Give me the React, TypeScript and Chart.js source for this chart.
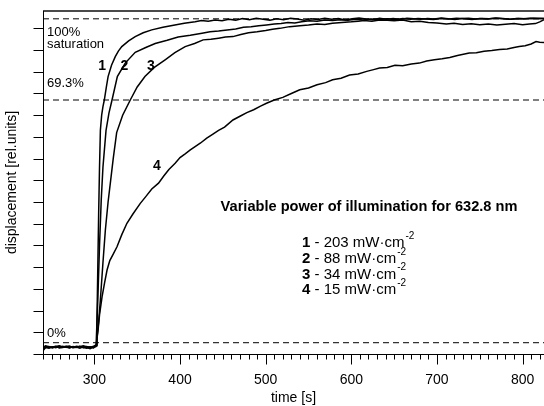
import React, { useEffect, useRef } from "react";
import { Chart, registerables } from "chart.js";
Chart.register(...registerables);

const FONT = "Arial, 'Liberation Sans', Helvetica, sans-serif";

// ---- Data (time [s], displacement [rel. units]) ----
const baseTime = [240, 243, 247, 251, 255, 259, 263, 267, 271, 275, 279, 283, 287, 291, 295, 299, 302];

const time1 = [...baseTime, 303, 304, 305, 306, 307, 308.5, 310, 311.6, 314, 316, 320, 324.4, 328, 332, 340, 347.7, 357, 367, 380, 394, 405, 417.6, 425, 433, 441, 449, 457, 465, 473, 481, 489, 497, 505, 513, 521, 529, 537, 545, 553, 561, 569, 577, 585, 593, 601, 609, 617, 625, 633, 641, 649, 657, 665, 673, 681, 689, 697, 705, 713, 721, 729, 737, 745, 753, 761, 769, 777, 785, 793, 801, 809, 817, 825];
const disp1 = [0.15, 0.3, 0.34, 0.28, 0.33, 0.3, 0.36, 0.31, 0.29, 0.35, 0.32, 0.27, 0.33, 0.3, 0.24, 0.33, 0.38,
  1.5, 4.0, 6.5, 8.6, 10.3, 11.0, 11.4, 11.7, 12.3, 12.78, 13.3, 13.7, 13.95, 14.16, 14.42, 14.62, 14.8, 14.93, 15.05, 15.16, 15.24, 15.31, 15.36, 15.33, 15.39, 15.35, 15.42, 15.38, 15.45, 15.4, 15.47, 15.42, 15.38, 15.44, 15.4, 15.46, 15.43, 15.37, 15.44, 15.41, 15.47, 15.42, 15.45, 15.39, 15.44, 15.48, 15.43, 15.4, 15.46, 15.42, 15.45, 15.41, 15.47, 15.44, 15.42, 15.46, 15.43, 15.48, 15.44, 15.41, 15.45, 15.47, 15.43, 15.46, 15.44, 15.48, 15.45, 15.42, 15.46, 15.44, 15.47, 15.45, 15.46];

const time2 = [...baseTime, 304, 306, 308, 310, 313.6, 317, 320.6, 326.8, 336, 347.7, 360, 371, 385, 397.8, 412, 425.7, 435, 445, 455, 465, 474, 483, 492, 501, 510, 518, 526, 534, 542, 551, 560, 569, 578, 587, 596, 605, 614, 623, 633, 642, 651, 660, 669, 678, 687, 696, 705, 714, 723, 732, 741, 750, 759, 768, 777, 786, 795, 804, 813, 825];
const disp2 = [0.2, 0.35, 0.3, 0.33, 0.29, 0.35, 0.31, 0.34, 0.28, 0.33, 0.3, 0.35, 0.29, 0.34, 0.31, 0.28, 0.4,
  2.5, 5.0, 7.1, 8.6, 10.3, 11.1, 11.7, 12.78, 13.4, 13.9, 14.12, 14.3, 14.45, 14.6, 14.68, 14.78, 14.84, 14.88, 14.93, 14.97, 15.05, 15.08, 15.12, 15.16, 15.2, 15.22, 15.27, 15.25, 15.3, 15.35, 15.33, 15.38, 15.36, 15.4, 15.37, 15.42, 15.39, 15.43, 15.41, 15.44, 15.4, 15.45, 15.42, 15.46, 15.43, 15.41, 15.45, 15.43, 15.47, 15.44, 15.41, 15.45, 15.43, 15.47, 15.44, 15.42, 15.46, 15.44, 15.47, 15.45];

const time3 = [...baseTime, 305, 307, 310, 312.8, 316, 319, 322, 326, 333, 341.9, 350, 359, 370, 382.6, 394, 406, 417, 427, 436, 445, 453, 461.8, 471, 480, 490, 500, 508, 516.5, 528, 540, 550, 560, 569, 578, 589, 600, 608, 615, 624, 633, 642, 650, 660, 670, 680, 690, 700, 711, 720, 730, 740, 750, 760, 770, 780, 790, 800, 808, 815, 820, 825];
const disp3 = [0.25, 0.3, 0.27, 0.32, 0.36, 0.28, 0.3, 0.33, 0.37, 0.29, 0.31, 0.34, 0.3, 0.27, 0.33, 0.3, 0.35,
  1.5, 2.5, 4.2, 5.7, 7.0, 8.0, 9.0, 10.2, 11.0, 11.7, 12.3, 12.78, 13.2, 13.55, 13.88, 14.16, 14.3, 14.47, 14.5, 14.55, 14.6, 14.62, 14.72, 14.8, 14.84, 14.9, 14.96, 15.0, 15.08, 15.12, 15.15, 15.2, 15.18, 15.24, 15.27, 15.3, 15.33, 15.36, 15.33, 15.39, 15.37, 15.35, 15.38, 15.3, 15.33, 15.27, 15.25, 15.2, 15.23, 15.18, 15.21, 15.17, 15.2, 15.16, 15.19, 15.22, 15.17, 15.2, 15.22, 15.3, 15.4];

const time4 = [...baseTime, 303, 304.3, 306, 309, 312, 314.8, 318, 322, 326.4, 332, 338, 345, 353.6, 360, 367, 374.9, 381, 387, 394.3, 400, 406, 412, 417.6, 424, 431.2, 438, 445, 452, 461.8, 470, 478, 486, 494, 501, 510, 520, 530, 539.8, 550, 560, 570, 578.2, 588, 598, 608, 618, 626, 633, 642, 651, 660, 670, 679.5, 688, 697, 706, 715, 724, 737.7, 746, 755, 764, 773, 782, 790, 796, 803, 810, 815.7, 820, 825];
const disp4 = [0.3, 0.38, 0.33, 0.3, 0.35, 0.38, 0.32, 0.36, 0.33, 0.3, 0.36, 0.33, 0.38, 0.34, 0.3, 0.36, 0.42,
  0.7, 1.1, 1.8, 2.64, 3.3, 3.87, 4.3, 4.6, 4.94, 5.5, 6.02, 6.45, 6.94, 7.25, 7.6, 7.87, 8.2, 8.5, 8.79, 9.05, 9.22, 9.4, 9.55, 9.72, 9.94, 10.12, 10.3, 10.45, 10.78, 10.95, 11.12, 11.25, 11.42, 11.55, 11.7, 11.82, 12.0, 12.17, 12.25, 12.4, 12.5, 12.63, 12.7, 12.85, 12.9, 13.02, 13.1, 13.17, 13.2, 13.3, 13.28, 13.36, 13.4, 13.5, 13.55, 13.6, 13.66, 13.75, 13.86, 13.88, 13.95, 13.98, 14.03, 14.05, 14.12, 14.16, 14.2, 14.28, 14.39, 14.36, 14.35];

// reference levels: 0 %, 69.3 %, 100 % saturation
const refLevels = [0.52, 11.7, 15.44];
const refLabels = ["0%", "69.3%", "100%"];

const xMajorTicks = [300, 400, 500, 600, 700, 800];
const yTickValues = [0, 1, 2, 3, 4, 5, 6, 7, 8, 9, 10, 11, 12, 13, 14, 15];

const curveNames = ["1", "2", "3", "4"];
const powers = ["203", "88", "34", "15"];

const X_MIN = 240, X_MAX = 825, Y_MIN = 0, Y_MAX = 15.8;

const toPts = (t: number[], u: number[]) => t.map((x, i) => ({ x, y: u[i] }));

export default function App() {
  const ref = useRef<HTMLCanvasElement>(null);
  useEffect(() => {
    const canvas = ref.current;
    if (!canvas) return;

    const decor = {
      id: "decor",
      afterDraw(chart: any) {
        const ctx = chart.ctx as CanvasRenderingContext2D;
        const xs = chart.scales.x;
        const ys = chart.scales.y;
        const a = chart.chartArea;
        ctx.save();
        // top frame
        ctx.strokeStyle = "#4a4a4a";
        ctx.lineWidth = 2;
        ctx.beginPath();
        ctx.moveTo(a.left, a.top);
        ctx.lineTo(a.right, a.top);
        ctx.stroke();
        // axes
        ctx.strokeStyle = "#000";
        ctx.lineWidth = 1;
        const L = Math.round(a.left) + 0.5;
        const B = Math.round(a.bottom) + 0.5;
        ctx.beginPath();
        ctx.moveTo(L, a.top);
        ctx.lineTo(L, B);
        ctx.lineTo(a.right, B);
        // y ticks
        for (const v of yTickValues) {
          const y = Math.round(ys.getPixelForValue(v)) + 0.5;
          ctx.moveTo(L - 10, y);
          ctx.lineTo(L, y);
        }
        // x ticks (minor every 10 s, major every 100 s)
        for (let k = Math.ceil(X_MIN / 10); k <= Math.floor(X_MAX / 10); k++) {
          const t = k * 10;
          const x = Math.round(xs.getPixelForValue(t)) + 0.5;
          const len = t % 100 === 0 ? 10 : 5;
          ctx.moveTo(x, B);
          ctx.lineTo(x, B + len);
        }
        ctx.stroke();

        ctx.fillStyle = "#000";
        ctx.textBaseline = "middle";
        // x tick labels
        ctx.font = `14px ${FONT}`;
        ctx.textAlign = "center";
        for (const t of xMajorTicks) {
          ctx.fillText(String(t), xs.getPixelForValue(t), B + 26);
        }
        // axis titles
        ctx.fillText("time [s]", (a.left + a.right) / 2, 398);
        ctx.save();
        ctx.translate(12, (a.top + a.bottom) / 2);
        ctx.rotate(-Math.PI / 2);
        ctx.fillText("displacement [rel.units]", 0, 0);
        ctx.restore();

        // reference level labels
        ctx.textAlign = "left";
        ctx.font = `13px ${FONT}`;
        const lx = a.left + 4;
        ctx.fillText(refLabels[2], lx, 32);
        ctx.fillText("saturation", lx, 44);
        ctx.fillText(refLabels[1], lx, 83);
        ctx.fillText(refLabels[0], lx, 333);

        // curve numbers
        ctx.font = `bold 14px ${FONT}`;
        ctx.textAlign = "center";
        const numPos = [
          [309, 13.27],
          [335, 13.27],
          [366, 13.27],
          [373, 8.66],
        ];
        numPos.forEach(([t, u], i) => {
          ctx.fillText(curveNames[i], xs.getPixelForValue(t), ys.getPixelForValue(u));
        });

        // title of annotation block
        ctx.font = `bold 14.6px ${FONT}`;
        ctx.fillText("Variable power of illumination for 632.8 nm", 369, 207);

        // legend lines
        ctx.textAlign = "left";
        const legY = [243, 259, 274.5, 290];
        powers.forEach((p, i) => {
          let x = 302;
          const y = legY[i];
          ctx.font = `bold 15px ${FONT}`;
          ctx.fillText(curveNames[i], x, y);
          x += ctx.measureText(curveNames[i]).width;
          ctx.font = `15px ${FONT}`;
          const s = ` - ${p} mW\u00B7cm`;
          ctx.fillText(s, x, y);
          x += ctx.measureText(s).width + 1;
          ctx.font = `10px ${FONT}`;
          ctx.fillText("-2", x, y - 7);
        });
        ctx.restore();
      },
    };

    const line = (t: number[], u: number[]) => ({
      data: toPts(t, u),
      borderColor: "#000",
      borderWidth: 1.5,
      pointRadius: 0,
      tension: 0,
      fill: false,
    });
    const dashed = (lvl: number) => ({
      data: [{ x: X_MIN, y: lvl }, { x: X_MAX, y: lvl }],
      borderColor: "#000",
      borderWidth: 1,
      borderDash: [6, 4],
      pointRadius: 0,
      fill: false,
    });

    const chart = new Chart(canvas, {
      type: "line",
      data: {
        datasets: [
          ...refLevels.map(dashed),
          line(time4, disp4),
          line(time3, disp3),
          line(time2, disp2),
          line(time1, disp1),
        ] as any,
      },
      options: {
        animation: false,
        responsive: false,
        devicePixelRatio: 1,
        events: [],
        layout: { padding: { top: 11, left: 0, right: 0, bottom: 0 } },
        plugins: { legend: { display: false }, tooltip: { enabled: false } },
        scales: {
          x: {
            type: "linear",
            min: X_MIN,
            max: X_MAX,
            grid: { display: false },
            border: { display: false },
            ticks: { display: false },
            afterFit: (s: any) => {
              s.height = 52;
            },
          },
          y: {
            type: "linear",
            min: Y_MIN,
            max: Y_MAX,
            grid: { display: false },
            border: { display: false },
            ticks: { display: false },
            afterFit: (s: any) => {
              s.width = 43;
            },
          },
        },
      } as any,
      plugins: [decor],
    });
    return () => chart.destroy();
  }, []);

  return (
    <div style={{ position: "fixed", left: 0, top: 0, width: 544, height: 406, background: "#fff" }}>
      <canvas ref={ref} width={544} height={406} style={{ width: 544, height: 406, display: "block" }} />
    </div>
  );
}
